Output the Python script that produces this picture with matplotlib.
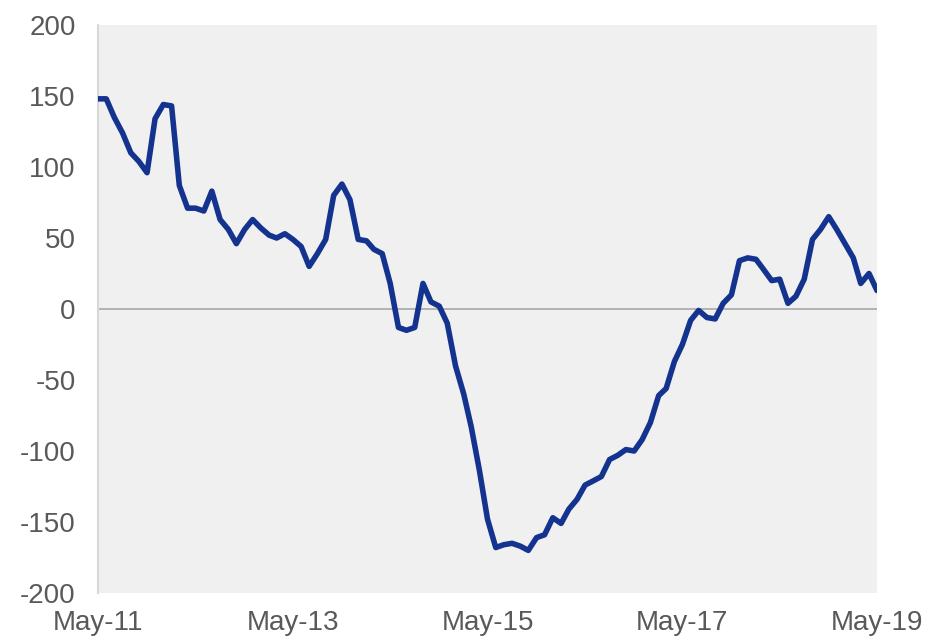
import matplotlib
matplotlib.use("Agg")
import matplotlib.pyplot as plt
import matplotlib.dates as mdates
import pandas as pd

# monthly series, May-2011 .. May-2019
start = "2011-05-01"
values = [148, 148, 135, 124, 110, 104, 96, 134, 144, 143,
          87, 71, 71, 69, 83, 63, 56, 46, 56, 63,
          57, 52, 50, 53, 49, 44, 30, 39, 49, 80,
          88, 77, 49, 48, 42, 39, 18, -13, -15, -13,
          18, 5, 2, -10, -40, -60, -83, -114, -148, -168,
          -166, -165, -167, -170, -161, -159, -147, -151, -141, -134,
          -124, -121, -118, -106, -103, -99, -100, -92, -80, -61,
          -56, -37, -25, -8, -1, -6, -7, 4, 10, 34,
          36, 35, 28, 20, 21, 4, 9, 21, 49, 56,
          65, 56, 46, 36, 18, 25, 13]
dates = pd.date_range(start, periods=len(values), freq="MS")

tick_dates = pd.to_datetime(["2011-05-01", "2013-05-01", "2015-05-01",
                             "2017-05-01", "2019-05-01"])
yticks = [-200, -150, -100, -50, 0, 50, 100, 150, 200]

plt.rcParams["font.family"] = ["Liberation Sans", "DejaVu Sans"]
plt.rcParams["axes.unicode_minus"] = False

fig = plt.figure(figsize=(9.41, 6.41), dpi=100)
ax = fig.add_axes([98 / 941, (641 - 593) / 641, (877 - 98) / 941, (593 - 25) / 641])
ax.set_facecolor("#f0f0f0")

ax.axhline(0, color="#a8a8a8", lw=1.2, zorder=1)
ax.plot(dates, values, color="#13338f", lw=4, solid_joinstyle="round",
        solid_capstyle="round", zorder=3)

ax.set_xlim(dates[0], dates[-1])
ax.set_ylim(-200, 200)
ax.set_yticks(yticks)
ax.set_xticks(tick_dates)
ax.xaxis.set_major_formatter(mdates.DateFormatter("%b-%y"))

for s in ["top", "right", "bottom"]:
    ax.spines[s].set_visible(False)
ax.spines["left"].set_color("#d8d8d8")
ax.spines["left"].set_linewidth(1.5)

ax.tick_params(axis="both", length=0, labelsize=20, labelcolor="#595959")
ax.tick_params(axis="y", pad=16)
ax.tick_params(axis="x", pad=12)

fig.savefig("out.png", dpi=100)
